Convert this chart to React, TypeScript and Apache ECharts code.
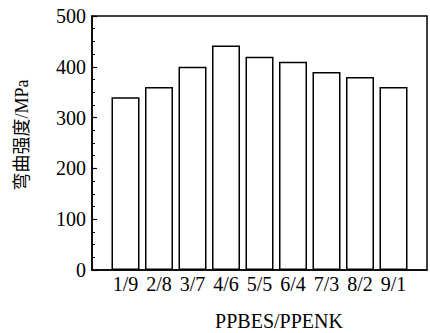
import React, { useEffect, useRef } from "react";
import * as echarts from "echarts";

const categories = ["1/9", "2/8", "3/7", "4/6", "5/5", "6/4", "7/3", "8/2", "9/1"];
const strengthValues = [340, 360, 400, 442, 420, 410, 390, 380, 360];
const yTicks = [0, 100, 200, 300, 400, 500];
const xTitle = "PPBES/PPENK";
const yTitle = "弯曲强度/MPa";

const SERIF = "'Liberation Serif', 'Times New Roman', 'Noto Sans CJK SC', serif";

export default function App() {
  const ref = useRef<HTMLDivElement>(null);
  useEffect(() => {
    document.body.style.margin = "0";
    const chart = echarts.init(ref.current!, null, { renderer: "svg" });
    chart.setOption({
      animation: false,
      backgroundColor: "#ffffff",
      grid: {
        left: 92,
        right: -5,
        top: 16,
        bottom: 63,
        show: true,
        borderColor: "#000",
        borderWidth: 1.5,
        backgroundColor: "transparent",
      },
      xAxis: {
        type: "value",
        min: 0,
        max: categories.length + 1,
        interval: 1,
        splitLine: { show: false },
        axisTick: { show: false },
        axisLine: { show: true, lineStyle: { color: "#000", width: 1.5 } },
        axisLabel: {
          color: "#000",
          fontSize: 20,
          fontFamily: SERIF,
          margin: 4,
          formatter: (v: number) => {
            const i = Math.round(v) - 1;
            return i >= 0 && i < categories.length ? categories[i] : "";
          },
        },
      },
      yAxis: {
        type: "value",
        min: yTicks[0],
        max: yTicks[yTicks.length - 1],
        interval: 100,
        splitLine: { show: false },
        axisLine: { show: true, lineStyle: { color: "#000", width: 1.5 } },
        axisTick: { show: true, inside: true, length: 5, lineStyle: { color: "#000", width: 1.2 } },
        minorTick: { show: true, splitNumber: 4, length: 3, lineStyle: { color: "#000", width: 1 } },
        axisLabel: { color: "#000", fontSize: 20, fontFamily: SERIF, margin: 6 },
      },
      graphic: [
        {
          type: "text",
          x: 22,
          y: 135,
          rotation: Math.PI / 2,
          style: {
            text: yTitle,
            fill: "#000",
            font: `18px ${SERIF}`,
            align: "center",
            verticalAlign: "middle",
          },
        },
        {
          type: "text",
          x: 279,
          y: 321,
          style: {
            text: xTitle,
            fill: "#000",
            font: `20px ${SERIF}`,
            align: "center",
            verticalAlign: "middle",
          },
        },
      ],
      series: [
        {
          type: "bar",
          barWidth: 28,
          data: categories.map((c, i) => [i + 1, strengthValues[i]]),
          itemStyle: { color: "#fff", borderColor: "#000", borderWidth: 1.5 },
        },
      ],
    });
    return () => chart.dispose();
  }, []);
  return <div ref={ref} style={{ width: 430, height: 333 }} />;
}
